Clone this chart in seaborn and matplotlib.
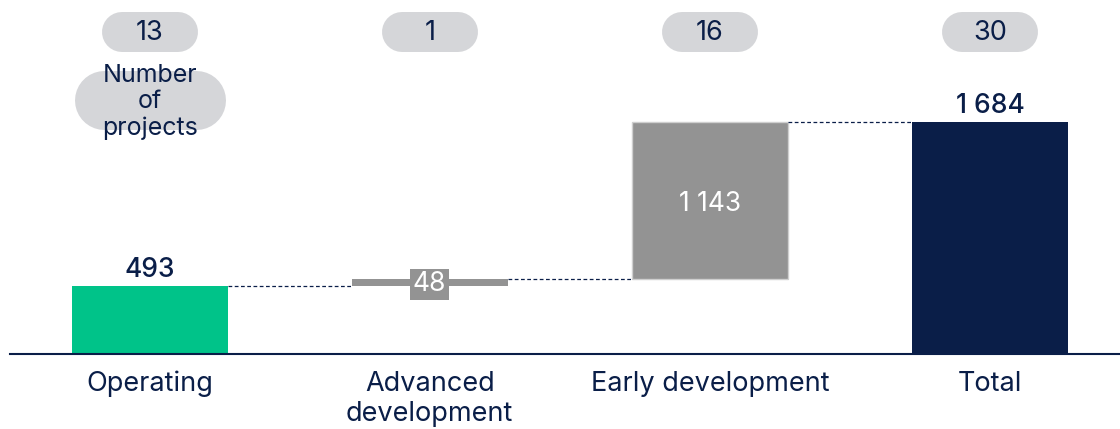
import numpy as np
import matplotlib
matplotlib.use("Agg")
import matplotlib.pyplot as plt
import seaborn as sns

# data
categories = ["Operating", "Advanced\ndevelopment", "Early development", "Total"]
values = [493, 48, 1143, 1684]
value_labels = ["493", "48", "1 143", "1 684"]
projects = [13, 1, 16, 30]
is_total = [False, False, False, True]

NAVY = "#0a1e48"
GREEN = "#00c389"
GREY = "#939393"
PILL = "#d5d6d9"

sns.set_theme(style="white")
plt.rcParams["font.family"] = ["Inter", "DejaVu Sans"]

# waterfall bottoms
bottoms = []
running = 0
for v, tot in zip(values, is_total):
    if tot:
        bottoms.append(0)
    else:
        bottoms.append(running)
        running += v
tops = [b + v for b, v in zip(bottoms, values)]

W, H = 1120, 429
fig = plt.figure(figsize=(W / 100, H / 100), dpi=100)
base_px = 75
scale = (307 - base_px) / 1684.0
ax = fig.add_axes([10 / W, base_px / H, (W - 10) / W, (H - base_px) / H])

sns.barplot(x=categories, y=values, bottom=bottoms, width=0.557, color=GREY,
            errorbar=None, linewidth=0, ax=ax)
colors = [GREEN, GREY, GREY, NAVY]
for p, c in zip(ax.patches, colors):
    p.set_facecolor(c)
ax.patches[2].set_edgecolor("#cfcfcf")
ax.patches[2].set_linewidth(1)

ax.set_xlim(-139.5 / 280, 3 + 130 / 280)
ax.set_ylim(0, (H - base_px) / scale)

for s in ["top", "right", "left"]:
    ax.spines[s].set_visible(False)
ax.spines["bottom"].set_color(NAVY)
ax.spines["bottom"].set_linewidth(1.5)
ax.set_yticks([])
ax.tick_params(axis="x", length=0, pad=12, labelsize=19.5, labelcolor=NAVY)
for t in ax.get_xticklabels():
    t.set_linespacing(1.2)
ax.set_xlabel("")
ax.set_ylabel("")

# connectors
half = 0.557 / 2
for i in range(len(values) - 1):
    ax.plot([i + half, i + 1 - half], [tops[i], tops[i]], ls=(0, (3, 2)),
            color=NAVY, lw=0.9)

# value labels
for i, (lab, v, b) in enumerate(zip(value_labels, values, bottoms)):
    if i == 0 or is_total[i]:
        ax.text(i, b + v + 25, lab, ha="center", va="bottom", fontsize=19,
                color=NAVY, fontweight="medium")
    elif v < 200:
        ax.text(i, b + v / 2 - 10, lab, ha="center", va="center", fontsize=19,
                color="white",
                bbox=dict(boxstyle="square,pad=0.1", fc=GREY, ec="none"))
    else:
        ax.text(i, b + v / 2 - 25, lab, ha="center", va="center", fontsize=19,
                color="white")

# pills in pixel space
ov = fig.add_axes([0, 0, 1, 1])
ov.set_xlim(0, W)
ov.set_ylim(H, 0)
ov.axis("off")
ov.patch.set_alpha(0)
for i, n in enumerate(projects):
    cx = ax.transData.transform((i, 0))[0]
    ov.plot([cx - 28, cx + 28], [32, 32], color=PILL, lw=40 * 0.72,
            solid_capstyle="round", zorder=1)
    ov.text(cx, 33, str(n), ha="center", va="center", fontsize=19.5,
            color=NAVY, zorder=2)

cx0 = ax.transData.transform((0, 0))[0]
ov.plot([cx0 - 46, cx0 + 46], [99.5, 99.5], color=PILL, lw=59 * 0.72,
        solid_capstyle="round", zorder=1)
ov.text(cx0, 102, "Number\nof\nprojects", ha="center", va="center",
        fontsize=18, color=NAVY, linespacing=1.2, zorder=2)

fig.savefig("out.png", dpi=100)
